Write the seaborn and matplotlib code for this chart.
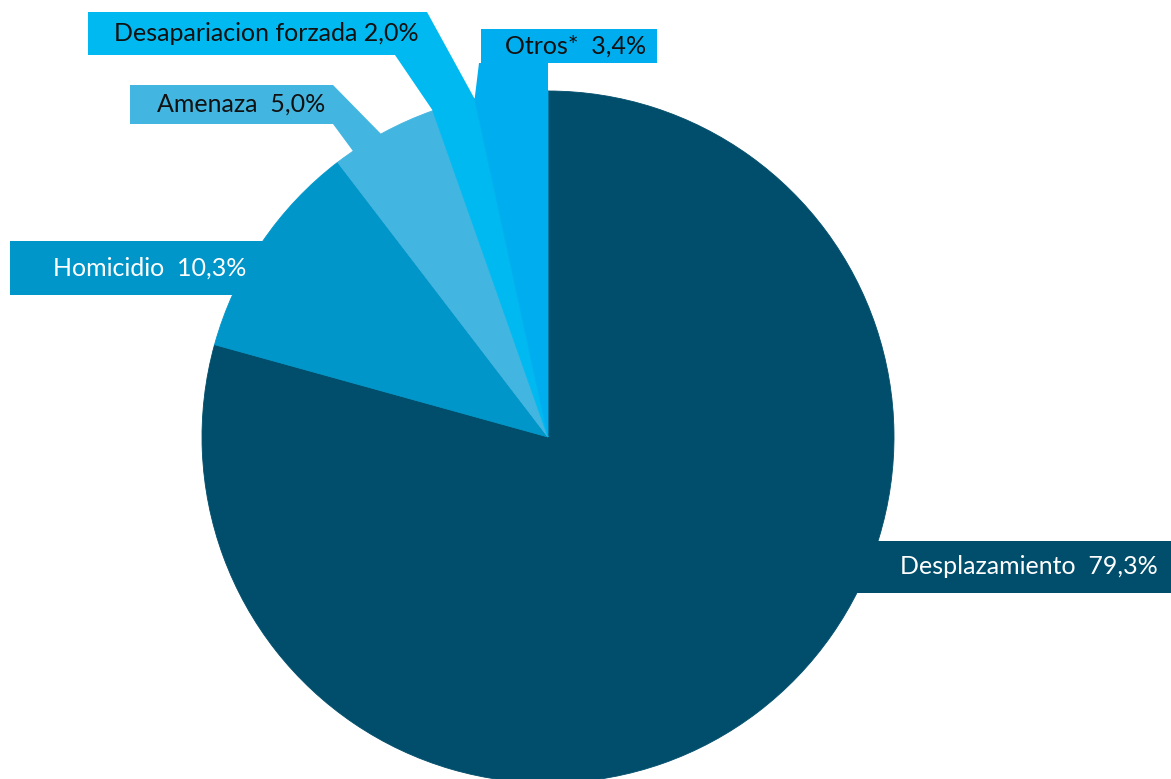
import numpy as np
import matplotlib
matplotlib.use("Agg")
import matplotlib.pyplot as plt
from matplotlib.patches import Polygon, Rectangle
import seaborn as sns

# ---- data ----
categories = ["Desplazamiento", "Homicidio", "Amenaza", "Desapariacion forzada", "Otros*"]
values = [79.3, 10.3, 5.0, 2.0, 3.4]
labels = ["Desplazamiento  79,3%", "Homicidio  10,3%", "Amenaza  5,0%",
          "Desapariacion forzada 2,0%", "Otros*  3,4%"]
colors = ["#004E6B", "#0096C9", "#42B5E0", "#00B9F0", "#00AEEF"]
text_colors = ["white", "white", "#111111", "#111111", "#111111"]

sns.set_theme(style="white")
plt.rcParams['font.family'] = ['Lato', 'DejaVu Sans']

W, H = 1171, 779
fig = plt.figure(figsize=(W / 100, H / 100), dpi=100)
ax = fig.add_axes([0, 0, 1, 1])

CX, CY, R = 548, 437, 346  # pixel layout of the pie (y down)


def P(x, y):
    return (x, H - y)


def arc(theta, r=1.0):
    t = np.deg2rad(theta)
    return (CX + R * r * np.cos(t), H - (CY - R * r * np.sin(t)))


# wedge boundary angles (clockwise from top)
total = sum(values)
cum = np.concatenate([[0], np.cumsum(values)])
bounds = 90 - 360 * cum / total  # start/end angle of each wedge

# ---- label boxes and callout bands (layout) ----
# box: (x0, y0, x1, y1) in pixels, text anchor (right x, center y)
boxes = [
    (850, 541, 1171, 593),
    (10, 241, 272, 295),
    (130, 85, 333, 124),
    (88, 12, 427, 55),
    (481, 29, 657, 63),
]
text_pos = [(1158, 567), (246, 268), (325, 104), (419, 33), (646, 46)]


def band(i, p_a, p_b, ang_a, ang_b):
    mid = 0.5 * (bounds[i] + bounds[i + 1])
    pts = [P(*p_a), arc(ang_a), arc(mid, 0.5), arc(ang_b), P(*p_b)]
    ax.add_patch(Polygon(pts, closed=True, facecolor=colors[i], edgecolor="none", zorder=1))


# Amenaza band
band(2, (333, 85), (333, 124), 118.85, 124.3)
# Desaparicion band
band(3, (427, 12), (395, 55), bounds[4], bounds[3])
# Otros band
band(4, (548, 63), (479, 63), bounds[5], bounds[4])

for i, (x0, y0, x1, y1) in enumerate(boxes):
    ax.add_patch(Rectangle((x0, H - y1), x1 - x0, y1 - y0,
                           facecolor=colors[i], edgecolor="none", zorder=1))
    tx, ty = text_pos[i]
    ax.text(tx, H - ty, labels[i], ha="right", va="center", fontsize=18,
            color=text_colors[i], zorder=5)

# ---- pie ----
wedges, _ = ax.pie(values, colors=colors, startangle=90, counterclock=False,
                   center=(CX, H - CY), radius=R,
                   wedgeprops=dict(linewidth=0.6, zorder=2))
for w, c in zip(wedges, colors):
    w.set_edgecolor(c)

ax.set_xlim(0, W)
ax.set_ylim(0, H)
ax.set_aspect("equal")
ax.axis("off")

fig.savefig("out.png", dpi=100, facecolor="white")
